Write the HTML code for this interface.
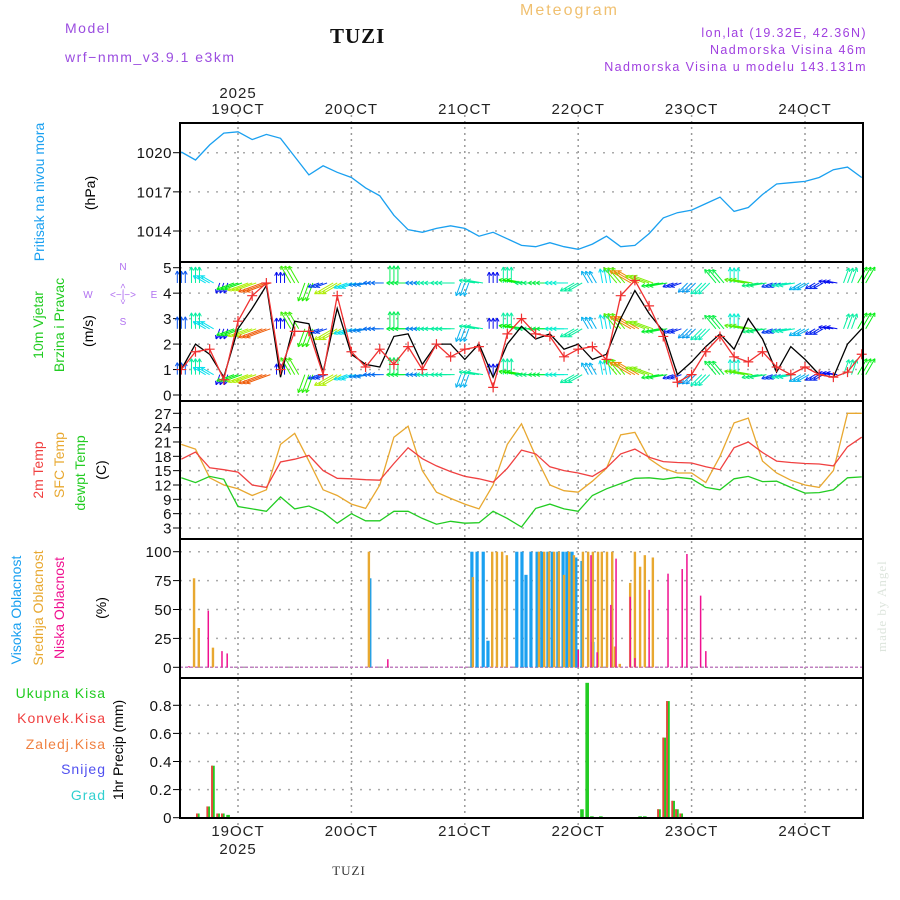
<!DOCTYPE html>
<html><head><meta charset="utf-8"><style>
html,body{margin:0;padding:0;background:#fff}
svg{display:block}
text{font-family:"Liberation Sans",sans-serif}
text.serif{font-family:"Liberation Serif",serif}
</style></head><body>
<svg id="chart" width="900" height="900" viewBox="0 0 900 900">
<g>
<text x="65" y="33" font-size="14" fill="#9b4de0" letter-spacing="1.5">Model</text>
<text x="65" y="62" font-size="14" fill="#9b4de0" letter-spacing="1.5">wrf−nmm_v3.9.1  e3km</text>
<text x="330" y="43" font-size="21" font-weight="bold" class="serif" fill="#111" letter-spacing="1">TUZI</text>
<text x="520" y="15" font-size="16" fill="#f0c070" letter-spacing="2">Meteogram</text>
<text x="867" y="37" font-size="12.5" fill="#a040e0" letter-spacing="1.4" text-anchor="end">lon,lat (19.32E, 42.36N)</text>
<text x="867" y="54" font-size="12.5" fill="#a040e0" letter-spacing="1.4" text-anchor="end">Nadmorska Visina 46m</text>
<text x="867" y="71" font-size="12.5" fill="#a040e0" letter-spacing="1.4" text-anchor="end">Nadmorska Visina u modelu 143.131m</text>
<text x="349" y="875" font-size="13" class="serif" fill="#333" text-anchor="middle" letter-spacing="1">TUZI</text>
<text transform="translate(886,652) rotate(-90)" font-size="13" class="serif" fill="#dde5dd" letter-spacing="1">made by Angel</text>
</g>
<g>
<text transform="translate(44,192) rotate(-90)" font-size="14" fill="#1aa0f0" text-anchor="middle">Pritisak na nivou mora</text>
<text transform="translate(95,193) rotate(-90)" font-size="14" fill="#000" text-anchor="middle">(hPa)</text>
<text transform="translate(43,325) rotate(-90)" font-size="14" fill="#22cc22" text-anchor="middle">10m Vjetar</text>
<text transform="translate(64,325) rotate(-90)" font-size="14" fill="#22cc22" text-anchor="middle">Brzina i Pravac</text>
<text transform="translate(93,331) rotate(-90)" font-size="14" fill="#000" text-anchor="middle">(m/s)</text>
<g fill="#b070f0" font-size="10" text-anchor="middle">
<text x="123" y="270">N</text><text x="123" y="325">S</text><text x="88" y="298">W</text><text x="154" y="298">E</text>
<text x="123" y="298">&lt;−|−&gt;</text>
<text transform="translate(126,294) rotate(-90)" font-size="9">&lt;−−&gt;</text>
</g>
<text transform="translate(43,470) rotate(-90)" font-size="14" fill="#f04040" text-anchor="middle">2m Temp</text>
<text transform="translate(64,465) rotate(-90)" font-size="14" fill="#e8a830" text-anchor="middle">SFC Temp</text>
<text transform="translate(85,473) rotate(-90)" font-size="14" fill="#22cc22" text-anchor="middle">dewpt Temp</text>
<text transform="translate(106,470) rotate(-90)" font-size="14" fill="#000" text-anchor="middle">(C)</text>
<text transform="translate(21,610) rotate(-90)" font-size="14" fill="#1aa0f0" text-anchor="middle">Visoka Oblacnost</text>
<text transform="translate(43,608) rotate(-90)" font-size="14" fill="#e8a830" text-anchor="middle">Srednja Oblacnost</text>
<text transform="translate(64,608) rotate(-90)" font-size="14" fill="#f01090" text-anchor="middle">Niska Oblacnost</text>
<text transform="translate(106,608) rotate(-90)" font-size="14" fill="#000" text-anchor="middle">(%)</text>
<g font-size="14" text-anchor="end" letter-spacing="1">
<text x="106" y="698" fill="#22cc22">Ukupna  Kisa</text>
<text x="106" y="723" fill="#f04040">Konvek.Kisa</text>
<text x="106" y="749" fill="#f08040">Zaledj.Kisa</text>
<text x="106" y="774" fill="#5050f0">Snijeg</text>
<text x="106" y="800" fill="#30d0d0">Grad</text>
</g>
<text transform="translate(123,750) rotate(-90)" font-size="14" fill="#000" text-anchor="middle">1hr Precip (mm)</text>
</g>
</svg>
<script>
const hours = [-12,-9,-6,-3,0,3,6,9,12,15,18,21,24,27,30,33,36,39,42,45,48,51,54,57,60,63,66,69,72,75,78,81,84,87,90,93,96,99,102,105,108,111,114,117,120,123,126,129,132];
const dayLabels = ["19OCT","20OCT","21OCT","22OCT","23OCT","24OCT"];
const pressure = [1020.05,1019.44,1020.6,1021.5,1021.6,1021.0,1021.4,1021.1,1019.7,1018.3,1019.0,1018.5,1018.1,1017.3,1016.7,1015.2,1014.1,1013.9,1014.2,1014.4,1014.2,1013.6,1013.9,1013.4,1012.9,1012.8,1013.1,1012.8,1012.6,1013.0,1013.6,1012.8,1012.9,1013.8,1015.0,1015.4,1015.6,1016.1,1016.6,1015.5,1015.8,1016.8,1017.6,1017.7,1017.8,1018.1,1018.7,1018.9,1018.1];
const windSpeed = [1.0,2.0,1.6,0.7,2.6,3.4,4.3,0.7,2.9,2.8,0.9,3.4,1.6,1.2,1.1,2.3,2.4,1.2,2.0,2.0,1.4,2.0,0.7,2.0,2.7,2.2,2.4,1.8,2.0,1.4,1.6,3.0,4.1,3.2,2.5,0.8,1.3,1.9,2.4,1.8,3.0,2.2,0.9,1.9,1.4,0.8,0.7,2.0,2.6];
const windSpeed2 = [1.0,1.7,1.8,0.6,2.9,3.9,4.4,1.0,2.5,2.5,0.8,3.9,1.7,1.1,1.8,1.2,1.9,1.0,2.0,1.5,1.8,1.9,0.3,2.4,3.0,2.4,2.3,1.5,1.8,1.9,1.4,3.9,4.5,3.5,2.3,0.5,0.8,1.7,2.3,1.5,1.3,1.7,1.1,0.8,1.1,0.8,0.7,0.9,1.6];
const windDir = [180,180,120,20,70,70,70,180,150,20,70,60,70,80,90,180,90,90,90,90,20,100,180,180,100,90,90,90,60,150,170,140,120,110,80,70,45,45,140,180,100,80,70,80,60,60,100,200,210];
const temp2m = [17.4,18.9,15.6,15.2,14.7,12.0,11.5,16.8,17.4,18.2,15.0,13.4,13.3,13.1,13.0,16.5,19.8,17.5,16.0,14.8,13.8,13.3,12.6,15.5,19.3,18.5,15.8,15.0,14.5,13.8,15.6,18.5,19.5,17.8,16.9,16.7,16.6,15.8,15.2,19.8,21.0,18.8,17.0,16.7,16.5,16.4,16.0,20.0,22.0];
const tempSfc = [20.5,19.5,13.5,12.0,11.2,9.8,11.0,20.5,22.8,17.0,11.0,9.8,8.0,7.1,12.0,22.0,24.3,15.0,10.5,9.2,8.0,7.0,12.0,20.5,24.8,18.0,12.0,10.8,10.5,12.8,15.5,22.5,23.0,17.5,15.5,14.5,14.5,12.5,18.0,25.0,26.0,17.0,14.5,13.0,12.0,11.5,15.0,27.0,27.0];
const dewpt = [13.5,12.5,13.8,13.2,7.5,7.0,6.5,9.5,7.0,7.6,6.3,4.0,6.0,4.5,4.5,6.5,6.5,5.0,3.8,4.4,4.0,4.1,6.5,5.0,3.2,7.1,8.0,7.0,6.5,9.8,11.2,12.3,13.4,13.5,13.2,13.6,13.3,11.5,11.0,13.3,13.8,12.7,12.8,11.5,10.3,10.4,11.0,13.5,13.7];
const highCloudHours = [27.9,49.5,50.6,51.9,52.9,59.0,60.1,60.95,62.0,63.3,64.3,65.6,66.5,67.7,68.8,69.6,70.7,71.5,72.8,75.1];
const highCloudValues = [77,100,100,100,23,100,100,80,100,100,100,100,100,100,100,100,100,95,92,22];
const midCloudHours = [-9.3,-8.3,-5.3,27.7,49.7,53.8,54.8,55.9,56.9,63.7,64.8,65.8,66.9,67.9,69.0,70.1,71.1,73.0,74.1,75.1,76.2,77.0,78.1,79.2,79.8,80.8,83.0,84.0,85.1,86.1,87.8];
const midCloudValues = [77,34,17,100,78,100,100,100,97,100,100,100,100,100,80,100,97,100,100,100,100,100,100,100,18,3,73,100,87,97,95];
const lowCloudHours = [-10.4,-6.3,-3.4,-2.3,31.7,72.0,74.7,76.0,78.9,80.0,83.0,84.0,87.0,91.0,94.0,95.0,97.9,99.0];
const lowCloudValues = [1,49,14,12,7,15,97,13,54,94,61,8,67,81,85,98,62,14];
const precipHours = [-8.5,-6.3,-5.3,-4.2,-3.2,-2.1,72.8,73.9,74.9,76.8,85.1,86.1,89.1,90.2,91.0,92.1,92.9,93.8];
const precipTotal = [0.03,0.08,0.37,0.03,0.03,0.02,0.06,0.96,0.01,0.01,0.01,0.01,0.06,0.57,0.83,0.12,0.06,0.03];
const precipConv = [0.03,0.08,0.37,0.03,0.03,0.0,0,0,0,0,0,0,0.06,0.57,0.83,0.12,0.06,0.03];
const pressureTicks = [1014,1017,1020];
const windTicks = [0,1,2,3,4,5];
const tempTicks = [3,6,9,12,15,18,21,24,27];
const cloudTicks = [0,25,50,75,100];
const precipTicks = [0,0.2,0.4,0.6,0.8];
const precipTickLabels = ["0","0.2","0.4","0.6","0.8"];

const svg = document.getElementById('chart');
const NS = 'http://www.w3.org/2000/svg';
const X0 = 180, X1 = 863;
function xs(t){ return 238 + t * 113.4 / 24; }
function lin(v0, y0, v1, y1){ return v => y0 + (v - v0) * (y1 - y0) / (v1 - v0); }
const panels = [
  {name:'pressure', top:123, bot:262, y: lin(1020,152.7,1014,231)},
  {name:'wind', top:262, bot:401, y: lin(0,395,5,267.7)},
  {name:'temp', top:401, bot:539, y: lin(3,528,27,413.3)},
  {name:'cloud', top:539, bot:678, y: lin(0,667.3,100,551.7)},
  {name:'precip', top:678, bot:818, y: lin(0,817.7,0.8,705.3)}
];
function mk(tag, attrs, parent){
  const e = document.createElementNS(NS, tag);
  for (const k in attrs) e.setAttribute(k, attrs[k]);
  (parent || svg).appendChild(e);
  return e;
}
const gGrid = mk('g', {});


dayLabels.forEach((d, i) => {
  const x = xs(24 * i);
  const l = mk('line', {x1:x, x2:x, y1:115, y2:825, stroke:'#999', 'stroke-width':1.5, 'stroke-dasharray':'2,4'}, gGrid);
  
  
  const t1 = mk('text', {x:x, y:114, 'font-size':15, 'text-anchor':'middle', fill:'#222', 'letter-spacing':1}, gGrid);
  t1.textContent = d;
  
  
  const t2 = mk('text', {x:x, y:836, 'font-size':15, 'text-anchor':'middle', fill:'#222', 'letter-spacing':1}, gGrid);
  t2.textContent = d;
  
  
});
[[98,'top-year-label'],[854,'bottom-year-label']].forEach(p => {
  const t = mk('text', {x:xs(0), y:p[0], 'font-size':15, 'text-anchor':'middle', fill:'#222', 'letter-spacing':1}, gGrid);
  t.textContent = '2025';
  
  
});
function hgrid(p, ticks, labels){
  ticks.forEach((v, i) => {
    const y = p.y(v);
    const l = mk('line', {x1:X0, x2:X1, y1:y, y2:y, stroke:'#aaa', 'stroke-width':1.5, 'stroke-dasharray':'2,7'}, gGrid);
    
    
    const tk = mk('line', {x1:X0-7, x2:X0, y1:y, y2:y, stroke:'#000', 'stroke-width':1}, gGrid);
    
    
    const t = mk('text', {x:X0-8, y:y+5.5, 'font-size':15, 'text-anchor':'end', fill:'#111', 'letter-spacing':0.5}, gGrid);
    t.textContent = labels ? labels[i] : String(v);
    
    
  });
}
hgrid(panels[0], pressureTicks);
hgrid(panels[1], windTicks);
hgrid(panels[2], tempTicks);
hgrid(panels[3], cloudTicks);
hgrid(panels[4], precipTicks, precipTickLabels);

function line(p, vals, color, name){
  const d = vals.map((v, i) => (i ? 'L' : 'M') + xs(hours[i]).toFixed(1) + ',' + p.y(v).toFixed(1)).join('');
  const e = mk('path', {d:d, fill:'none', stroke:color, 'stroke-width':1.3});
  
  
  return e;
}
line(panels[0], pressure, '#1aa0f0', 'pressure-line');
const P2 = panels[1];
const gArr = mk('g', {});


[4.4, 2.6, 0.8].forEach(level => {
  hours.forEach((t, i) => {
    const v = windSpeed[i];
    const hue = Math.max(0, Math.min(280, 280 - 60 * v));
    const col = 'hsl(' + hue + ',95%,48%)';
    const L = 8 + 4 * v;
    const a = (windDir[i] + 180) * Math.PI / 180;
    const x0 = xs(t), y0 = P2.y(level);
    const g = mk('g', {stroke:col, 'stroke-width':1, fill:'none'}, gArr);
    
    
    for (let k = -1; k <= 1; k++) {
      const ox = x0 + k * 4;
      const x1 = ox + Math.sin(a) * L, y1 = y0 - Math.cos(a) * L;
      mk('line', {x1:ox, y1:y0, x2:x1, y2:y1}, g);
      const hb = 4;
      mk('line', {x1:x1, y1:y1, x2:x1 - hb * Math.sin(a - 0.5), y2:y1 + hb * Math.cos(a - 0.5)}, g);
      mk('line', {x1:x1, y1:y1, x2:x1 - hb * Math.sin(a + 0.5), y2:y1 + hb * Math.cos(a + 0.5)}, g);
    }
  });
});
line(P2, windSpeed, '#000', 'wind-speed-line');
line(P2, windSpeed2, '#f03030', 'wind-speed-model-line');
const gCross = mk('g', {stroke:'#f03030', 'stroke-width':1.2});


hours.forEach((t, i) => {
  const x = xs(t), y = P2.y(windSpeed2[i]);
  const c = mk('path', {d:'M' + (x-5) + ',' + y + 'H' + (x+5) + 'M' + x + ',' + (y-5) + 'V' + (y+5)}, gCross);
  
  
});
const P3 = panels[2];
line(P3, tempSfc, '#e8a830', 'sfc-temp-line');
line(P3, temp2m, '#f04040', 'temp-2m-line');
line(P3, dewpt, '#22cc22', 'dewpoint-line');
const P4 = panels[3];
const base4 = P4.y(0);
const zl = mk('line', {x1:X0, x2:X1, y1:base4, y2:base4, stroke:'#c080c0', 'stroke-width':1.5, 'stroke-dasharray':'3,2'});


function bars(p, hrs, vals, color, w, off, name){
  hrs.forEach((t, i) => {
    const y = p.y(vals[i]), b = p.y(0);
    const r = mk('rect', {x:xs(t) + off, y:y, width:w, height:Math.max(0, b - y), fill:color});
    
    
  });
}
bars(P4, highCloudHours, highCloudValues, '#1aa0f0', 3.2, -1.6, 'high-cloud-bar');
bars(P4, midCloudHours, midCloudValues, '#e8a830', 2.4, -1.2, 'mid-cloud-bar');
bars(P4, lowCloudHours, lowCloudValues, '#f01090', 1.5, -0.7, 'low-cloud-bar');
const P5 = panels[4];
bars(P5, precipHours, precipTotal, '#22cc22', 3.6, -1.8, 'precip-total-bar');
bars(P5, precipHours, precipConv, '#f04040', 1.8, -1.8, 'precip-convective-bar');
panels.forEach(p => {
  const r = mk('rect', {x:X0, y:p.top, width:X1 - X0, height:p.bot - p.top, fill:'none', stroke:'#000', 'stroke-width':2});
  
  
});
</script>
</body></html>
